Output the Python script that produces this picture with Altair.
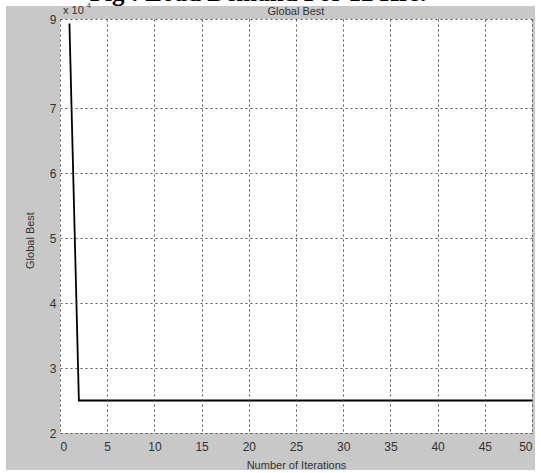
import altair as alt
import pandas as pd

iterations = list(range(1, 51))
global_best = [89000] + [25000] * 49
x_ticks = [0, 5, 10, 15, 20, 25, 30, 35, 40, 45, 50]
y_ticks = [20000, 30000, 40000, 50000, 60000, 70000, 90000]
y_domain = [20000, 70000, 90000]
y_range = [414, 89, 0]

df = pd.DataFrame({"iter": iterations, "best": global_best})

FONT = "Liberation Sans"
TXT = "#333333"
GRID = "#444444"

base = alt.Chart(df)

line = base.mark_line(color="black", strokeWidth=1.8, clip=True).encode(
    x=alt.X("iter:Q",
            scale=alt.Scale(domain=[0, 50], nice=False, zero=False),
            axis=alt.Axis(values=x_ticks, title="Number of Iterations",
                          grid=True, gridDash=[2, 3], gridColor=GRID,
                          gridWidth=1, gridOpacity=0.9, zindex=1,
                          tickSize=0, labelPadding=8, domain=False,
                          labelFont=FONT, labelFontSize=12, labelColor=TXT,
                          titleFont=FONT, titleFontSize=11, titleColor=TXT,
                          titleFontWeight="normal", titleY=32,
                          titleBaseline="middle")),
    y=alt.Y("best:Q",
            scale=alt.Scale(domain=y_domain, range=y_range, nice=False, zero=False),
            axis=alt.Axis(values=y_ticks, title="Global Best",
                          labelExpr="datum.value / 10000",
                          grid=True, gridDash=[2, 3], gridColor=GRID,
                          gridWidth=1, gridOpacity=0.9, zindex=1,
                          tickSize=0, labelPadding=4, domain=False,
                          labelFont=FONT, labelFontSize=12, labelColor=TXT,
                          titleFont=FONT, titleFontSize=11, titleColor=TXT,
                          titleFontWeight="normal", titleX=-30, titleY=221,
                          titleBaseline="middle")),
)

one = pd.DataFrame({"k": [0]})

def box(x1, x2, y1, y2, color):
    return alt.Chart(one).mark_rect(color=color, clip=False).encode(
        x=alt.value(x1), x2=alt.value(x2), y=alt.value(y1), y2=alt.value(y2))

panel = box(-54, 475, -13, 451, "#c8c8c8")
plot_bg = box(0, 472, 0, 414, "white")

def label(text, x, y, size, align="left", color=TXT, font=FONT, weight="normal"):
    return alt.Chart(pd.DataFrame({"t": [text]})).mark_text(
        font=font, fontSize=size, fontWeight=weight, color=color,
        align=align, baseline="alphabetic", clip=False
    ).encode(text="t:N", x=alt.value(x), y=alt.value(y))

caption = label("Fig : Load Demand For 12 Hrs.", 198, -18, 25, align="center",
                color="black", font="Liberation Serif", weight="bold")
title = label("Global Best", 236, -4, 11, align="center")
mult = label("x 10", 3, -5, 11)
sup = label("4", 27, -11, 7)

chart = alt.layer(panel, plot_bg, line, caption, title, mult, sup).properties(
    width=472, height=414,
    autosize=alt.AutoSizeParams(type="none"),
    padding={"left": 60, "top": 19, "right": 9, "bottom": 40},
    background="white",
).configure_view(stroke="#333333", strokeWidth=1.2, fill="white")

chart.save("out.html", embed_options={"renderer": "svg", "actions": False})
